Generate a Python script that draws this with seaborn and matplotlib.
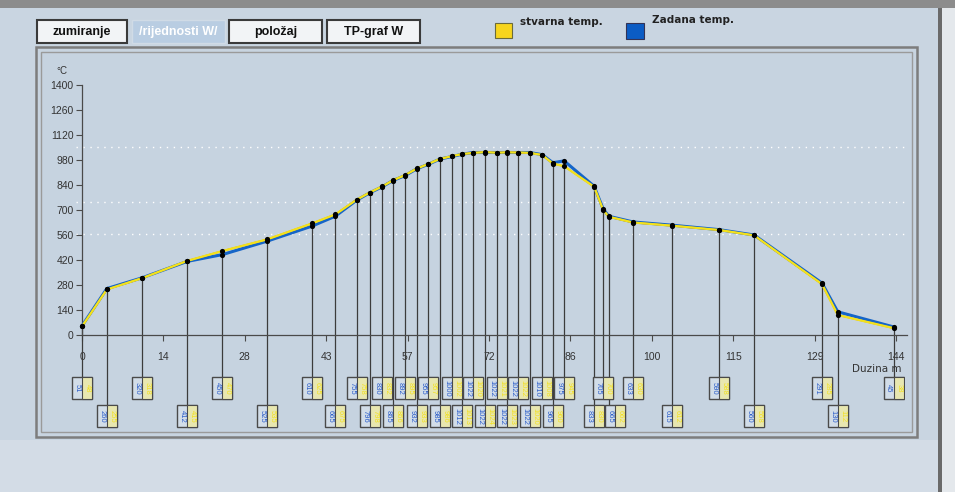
import numpy as np
import pandas as pd
import matplotlib
matplotlib.use("Agg")
import matplotlib.pyplot as plt
from matplotlib.patches import Rectangle
import seaborn as sns

# duzina (m) of measuring points
duzina = [0, 4.4, 10.6, 18.6, 24.8, 32.7, 40.7, 44.8, 48.6, 50.9, 53.1, 55.0,
          57.1, 59.3, 61.2, 63.3, 65.5, 67.2, 69.2, 71.3, 73.4, 75.2, 77.1,
          79.2, 81.4, 83.3, 85.3, 90.6, 92.2, 93.2, 97.5, 104.4, 112.7,
          118.9, 130.9, 133.7, 143.6]
# zadana temp. (set values, blue labels)
zadana = [51, 260, 320, 412, 450, 525, 610, 665, 755, 796, 830, 865, 892, 932,
          955, 985, 1000, 1012, 1022, 1022, 1022, 1022, 1022, 1022, 1010, 965,
          975, 833, 705, 665, 633, 615, 590, 560, 291, 130, 45]
# stvarna temp. (actual values, yellow labels)
stvarna = [48, 255, 318, 415, 470, 535, 625, 675, 758, 798, 832, 866, 895, 933,
           957, 986, 1002, 1013, 1020, 1024, 1021, 1023, 1022, 1020, 1008, 960,
           945, 830, 700, 662, 630, 612, 588, 558, 285, 112, 38]

yticks = [0, 140, 280, 420, 560, 700, 840, 980, 1120, 1260, 1400]
xtick_labels = ["0", "14", "28", "43", "57", "72", "86", "100", "115", "129", "144"]
limits = [1053, 745, 566]

buttons = ["zumiranje", "/rijednosti W/", "položaj", "TP-graf W"]

df = pd.DataFrame({"duzina": duzina, "zadana": zadana, "stvarna": stvarna})

plt.rcParams['font.family'] = ['Liberation Sans', 'DejaVu Sans']

W, H = 955, 492
fig = plt.figure(figsize=(W / 100, H / 100), dpi=100)
fig.patch.set_facecolor('#c9d5e1')


def rect(x0, y0, x1, y1, **kw):
    fig.patches.append(Rectangle((x0 / W, 1 - y1 / H), (x1 - x0) / W, (y1 - y0) / H,
                                 transform=fig.transFigure, zorder=-5, **kw))


def ftext(x, y, s, **kw):
    fig.text(x / W, 1 - y / H, s, **kw)


# window decorations
rect(0, 0, W, 8, fc='#8c8c8c', ec='none')
rect(0, 440, 938, H, fc='#d3dce6', ec='none')
rect(938, 8, 942, H, fc='#6a6a6a', ec='none')
rect(942, 8, W, H, fc='#e4e8ec', ec='none')
rect(36, 47, 917, 437, fc='#c8d4e0', ec='#7d7d7d', lw=1.8)
rect(41, 52, 912, 432, fc='#c6d3e0', ec='#9a9a9a', lw=1.0)

# buttons
bx = [(37, 127), (132, 225), (229, 322), (327, 420)]
for (x0, x1), lab in zip(bx, buttons):
    if lab.startswith('/'):
        rect(x0, 20, x1, 43, fc='#b9cde2', ec='#d0dbe6', lw=1)
        ftext((x0 + x1) / 2, 32, lab, ha='center', va='center', fontsize=9,
              color='white', fontweight='bold')
    else:
        rect(x0, 20, x1, 43, fc='#f2f4f6', ec='#3a3a3a', lw=1.5)
        ftext((x0 + x1) / 2, 32, lab, ha='center', va='center', fontsize=9,
              color='#111111', fontweight='bold')

# legend
rect(495, 23, 512, 38, fc='#f7d51d', ec='#6b6b3a', lw=0.8)
ftext(520, 22, "stvarna temp.", fontsize=7.5, fontweight='bold', color='#222222',
      va='center', family='DejaVu Sans')
rect(626, 23, 644, 39, fc='#0b5cc4', ec='#333355', lw=0.8)
ftext(652, 20, "Zadana temp.", fontsize=7.5, fontweight='bold', color='#222222',
      va='center', family='DejaVu Sans')

# chart axes, data coords: 0 m -> px 82, 144 m -> px 896; 0 C -> px 335, 1400 C -> px 85
ax = fig.add_axes([45 / W, 1 - 430 / H, 860 / W, 375 / H])
ax.set_zorder(5)
ax.set_facecolor('none')
sx = (896 - 82) / 144
sy = (335 - 85) / 1400
ax.set_xlim((45 - 82) / sx, (905 - 82) / sx)
ax.set_ylim(-(430 - 335) / sy, (335 - 55) / sy)

for lv in limits:
    ax.plot([-1, 146], [lv, lv], color='white', lw=1.0, ls=(0, (1, 4)), zorder=1)

for s in ['top', 'right']:
    ax.spines[s].set_visible(False)
ax.spines['left'].set_position(('data', 0))
ax.spines['bottom'].set_position(('data', 0))
ax.spines['left'].set_bounds(0, 1400)
ax.spines['bottom'].set_bounds(0, 146)
for s in ['left', 'bottom']:
    ax.spines[s].set_color('#4a4a4a')
    ax.spines[s].set_linewidth(0.9)
ax.set_yticks(yticks)
ax.set_yticklabels([str(v) for v in yticks], fontsize=7.5, color='#333333')
ax.set_xticks(np.linspace(0, 144, 11))
ax.set_xticklabels(xtick_labels, fontsize=7.5, color='#333333')
ax.tick_params(axis='y', length=4, width=0.8, color='#4a4a4a', pad=2)
ax.tick_params(axis='x', length=4, width=0.8, color='#4a4a4a', pad=8)

ax.text(-3.5, 1480, "°C", fontsize=7, color='#333333', ha='center', va='center')
ax.text(145, -190, "Duzina m", fontsize=7.5, color='#333333', ha='right', va='center',
        family='DejaVu Sans')

# box geometry
bw = 20 / sx
bh = 22 / sy
top_row = -(377 - 335) / sy
bot_row = -(405 - 335) / sy
last_right = {0: -99, 1: -99}

for i, (xv, zv, sv) in enumerate(zip(duzina, zadana, stvarna)):
    row = i % 2
    ytop = top_row if row == 0 else bot_row
    # shift a box right if it would overlap the previous box of the same row
    left = max(xv - bw / 2, last_right[row] + 1 / sx)
    last_right[row] = left + bw
    ax.plot([xv, xv], [max(zv, sv), ytop], color='#3c3c3c', lw=0.9, zorder=2)
    ax.add_patch(Rectangle((left, ytop - bh), bw, bh, fc='#d2dde8',
                           ec='#4a4a4a', lw=1.0, zorder=3))
    ax.add_patch(Rectangle((left + bw / 2, ytop - bh), bw / 2, bh, fc='#e8e7b0',
                           ec='#4a4a4a', lw=0.8, zorder=3))
    ax.text(left + bw / 4, ytop - bh / 2, str(zv), rotation=270, fontsize=5.5,
            color='#2a5cc8', ha='center', va='center', zorder=4)
    ax.text(left + 3 * bw / 4, ytop - bh / 2, str(sv), rotation=270, fontsize=5.5,
            color='#f2e020', ha='center', va='center', zorder=4)

# temperature curves
sns.lineplot(data=df, x="duzina", y="zadana", color='#1565c8', lw=2.2, ax=ax,
             zorder=5, sort=False)
sns.lineplot(data=df, x="duzina", y="stvarna", color='#e8871e', lw=1.2, ax=ax,
             zorder=5, sort=False)
sns.lineplot(data=df, x="duzina", y="stvarna", color='#f2e21c', lw=1.6, ax=ax,
             zorder=6, sort=False)
sns.scatterplot(data=df, x="duzina", y="zadana", color='black', s=14, ax=ax,
                zorder=7, linewidth=0)
sns.scatterplot(data=df, x="duzina", y="stvarna", color='black', s=14, ax=ax,
                zorder=7, linewidth=0)
ax.set_xlabel("")
ax.set_ylabel("")

fig.savefig("out.png", dpi=100, facecolor=fig.get_facecolor())
